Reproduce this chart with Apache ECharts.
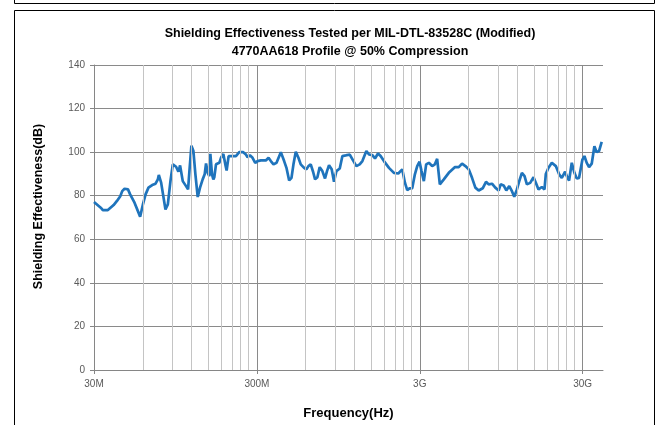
<!DOCTYPE html>
<html>
<head>
<meta charset="UTF-8">
<title>shielding</title>
<script src="https://cdn.jsdelivr.net/npm/echarts@6/dist/echarts.min.js"></script>
<style>
  html, body { margin: 0; padding: 0; background: #fff; }
  #main { width: 657px; height: 425px; }
</style>
</head>
<body>
<div id="main"></div>
<script>
// frequency in MHz
var freqMHz = [30, 33, 34, 36.5, 37.4, 39.6, 41.5, 43.5, 44.7, 46.2, 48.5, 50, 53.2, 57.6, 59.9, 62.2, 64.8, 68.3, 71.6, 74, 75, 77.5,
  82.4, 85.2, 88.4, 91.4, 95.7, 98.9, 101.3, 103.7, 105.2, 110.2, 113.4, 115.6, 118.9, 122.3, 125.8, 130, 134.3, 139.4, 143.4, 146.2,
  149.7, 153.2, 155.4, 159.1, 162.1, 164.4, 168.3, 176.4, 180.6, 186.7, 192, 195.6, 201.2, 212.9, 223.1, 233.8, 247.4, 256.9, 263,
  271.8, 282.2, 293, 302.8, 317.4, 340.5, 353.7, 365.4, 379.5, 396, 420.9, 441, 455.7, 473.4, 489.3, 503.1, 519.9, 539.7, 557.7,
  584.7, 604.2, 621.6, 642.3, 663.9, 682.8, 705.6, 729, 756.9, 786, 808.5, 831.9, 863.7, 892.5,
  923, 968, 1005, 1053, 1115, 1168, 1224, 1283, 1333, 1410, 1464, 1534, 1593, 1662, 1725, 1808, 1941, 2082, 2214, 2342, 2432,
  2513, 2597, 2696, 2800, 2894, 2990, 3075, 3178, 3284, 3411, 3575, 3713, 3836, 3984, 4215, 4521, 4920, 5205, 5454, 5717, 5992,
  6281, 6583, 6901, 7302, 7653, 7945, 8328, 8728, 9149, 9410, 9817, 10193, 10633, 11041, 11410, 11846, 12243, 12709, 13196,
  13637, 14293, 14982, 15482, 16073, 16847, 17493, 17826, 18509, 19405, 20529, 21516, 22341, 23415, 24198, 24774, 25723,
  26710, 27605, 28524, 29903, 30757, 31785, 32848, 34106, 35416, 36600, 37819, 39275];

var shieldingDb = [77.1, 74.5, 73.4, 73.4, 73.7, 75.7, 77.6, 79.8, 82.1, 83.2, 82.9, 80.6, 76.8, 70.4, 76, 80.6, 83.7, 84.9, 85.5, 87.5, 89.5, 86,
  73.7, 76, 86.7, 94.4, 93.3, 91, 93.9, 94.4, 86.7, 84.4, 82.9, 91.3, 103, 100.5, 89.8, 79.4, 83.7, 87.5, 89.8, 94.8,
  90.5, 89, 99.2, 89.8, 87.5, 88.5, 94.4, 95.1, 97.4, 99.2, 94.4, 91.6, 98.2, 98.2, 98.2, 100, 100, 98.9, 97.7,
  98.6, 97.4, 95.1, 95.9, 96.2, 96.2, 97.4, 95.9, 94.4, 95.1, 100, 95.9, 92.8, 87, 88.2, 94.4, 100.2, 97.4, 94.4,
  92.8, 92.1, 93.6, 94.4, 91, 87.5, 88.5, 93.1, 91.3, 87.9, 91.3, 94, 92.1, 86.4,
  91.3, 92.5, 98.2, 98.5, 98.9, 96.2, 93.6, 94.4, 95.9, 100.5, 98.9, 98.6, 97.1, 99.4, 98.2, 95.9, 92.8, 90.5, 90.2, 92.1, 86,
  82.6, 83.4, 83.4, 89.8, 93.6, 95.6, 91.3, 86.7, 94.4, 95.1, 93.6, 94.4, 96.9, 85.2, 87.5, 90.5, 93.1, 93.1, 94.7, 93.6, 92.1,
  88.2, 83.7, 82.4, 83.4, 86.4, 85.2, 85.5, 83.7, 82.4, 85.2, 84.7, 82.4, 84.4, 82.1, 79.5, 82.9, 86.7, 90.5, 89,
  85.2, 85.9, 88.5, 85.9, 82.9, 84, 82.9, 90, 92.8, 95.1, 93.6, 89.8, 88.2, 91, 88.2, 87, 95.1,
  90.5, 87.9, 88.2, 96.6, 98.2, 95.1, 93.1, 94.7, 102.7, 100, 100.5, 104.7];

var xTickLabels = ['30M', '300M', '3G', '30G'];
var fMinMHz = 30;
var fMaxMHz = 40000;

// x is plotted as decades above 30 MHz so ticks fall on 30M, 300M, 3G, 30G
function dec(f) { return Math.log10(f / fMinMHz); }

var lineData = [];
for (var i = 0; i < freqMHz.length; i++) {
  lineData.push([dec(freqMHz[i]), shieldingDb[i]]);
}

// minor grid at multiples of 30M within each decade
var minorLines = [];
for (var k = 0; k < 4; k++) {
  for (var m = 2; m <= 9; m++) {
    var f = fMinMHz * m * Math.pow(10, k);
    if (f < fMaxMHz) minorLines.push({ xAxis: dec(f) });
  }
}

var chart = echarts.init(document.getElementById('main'));

var option = {
  animation: false,
  backgroundColor: '#fff',
  textStyle: { fontFamily: 'Liberation Sans, Arial, sans-serif' },
  title: {
    text: 'Shielding Effectiveness Tested per MIL-DTL-83528C (Modified)\n4770AA618 Profile @ 50% Compression',
    left: 345,
    top: 20,
    textAlign: 'center',
    textStyle: { fontSize: 12.5, fontWeight: 'bold', color: '#000', lineHeight: 18 }
  },
  graphic: [
    { type: 'rect', silent: true, shape: { x: 14.5, y: 10.5, width: 640, height: 430 },
      style: { fill: 'none', stroke: '#000', lineWidth: 1 } },
    { type: 'polyline', silent: true, shape: { points: [[14.5, -2], [14.5, 3.5], [654.5, 3.5], [654.5, -2]] },
      style: { fill: 'none', stroke: '#000', lineWidth: 1 } }
  ],
  grid: { left: 94, right: 54, top: 65, bottom: 53 },
  xAxis: {
    type: 'value',
    min: 0,
    max: dec(fMaxMHz),
    interval: 1,
    name: 'Frequency(Hz)',
    nameLocation: 'middle',
    nameGap: 37,
    nameTextStyle: { fontSize: 13, fontWeight: 'bold', color: '#000' },
    axisLine: { show: true, lineStyle: { color: '#868686' } },
    axisTick: { show: true, length: 4, lineStyle: { color: '#868686' }, customValues: [0, 1, 2, 3] },
    axisLabel: {
      customValues: [0, 1, 2, 3],
      color: '#595959', fontSize: 10, margin: 9,
      formatter: function (v) { return xTickLabels[Math.round(v)] || ''; }
    },
    splitLine: { show: true, lineStyle: { color: '#8a8a8a', width: 1 } }
  },
  yAxis: {
    type: 'value',
    min: 0,
    max: 140,
    interval: 20,
    name: 'Shielding Effectiveness(dB)',
    nameLocation: 'middle',
    nameGap: 49,
    nameTextStyle: { fontSize: 12.5, fontWeight: 'bold', color: '#000', padding: [0, 0, 0, 22] },
    axisLine: { show: true, lineStyle: { color: '#868686' } },
    axisTick: { show: true, length: 4, lineStyle: { color: '#868686' } },
    axisLabel: { color: '#595959', fontSize: 10, margin: 9 },
    splitLine: { show: true, lineStyle: { color: '#8a8a8a', width: 1 } }
  },
  series: [
    {
      name: 'minor grid',
      type: 'line',
      data: [],
      silent: true,
      z: 1,
      markLine: {
        silent: true,
        symbol: 'none',
        label: { show: false },
        lineStyle: { color: '#c4c4c4', type: 'solid', width: 1 },
        data: minorLines
      }
    },
    {
      name: 'SE',
      type: 'line',
      data: lineData,
      z: 3,
      showSymbol: false,
      smooth: false,
      lineStyle: { color: '#1f74bc', width: 2.7 },
      itemStyle: { color: '#1f74bc' }
    }
  ]
};
chart.setOption(option);
</script>
</body>
</html>
